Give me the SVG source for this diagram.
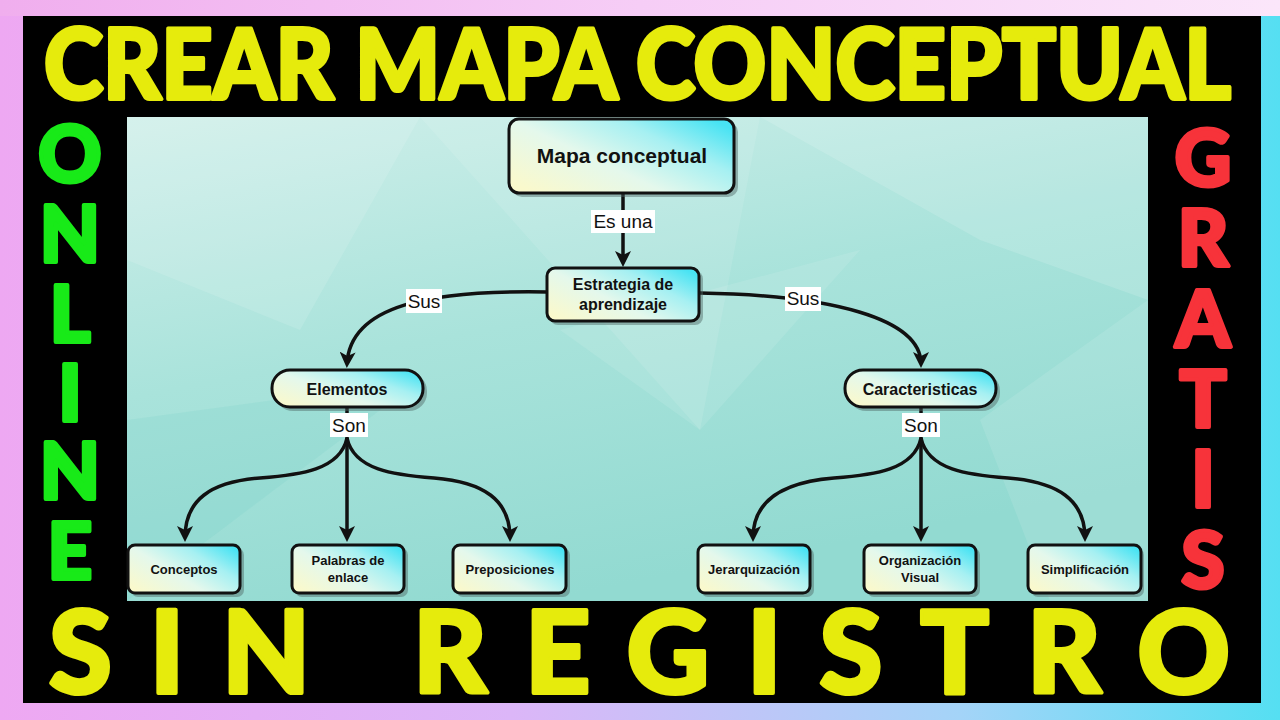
<svg xmlns="http://www.w3.org/2000/svg" width="1280" height="720" viewBox="0 0 1280 720">
<defs>
<linearGradient id="frame" x1="0" y1="0" x2="1" y2="0">
<stop offset="0" stop-color="#EEA8F2"/>
<stop offset="0.4" stop-color="#DCB6F8"/>
<stop offset="0.75" stop-color="#A4D4F8"/>
<stop offset="1" stop-color="#55DFF2"/>
</linearGradient>
<linearGradient id="topstrip" x1="0" y1="0" x2="1" y2="0">
<stop offset="0" stop-color="#F0AEEE"/>
<stop offset="0.5" stop-color="#F6CDF6"/>
<stop offset="1" stop-color="#FBE6FA"/>
</linearGradient>
<linearGradient id="panel" x1="0" y1="0" x2="0.4" y2="1">
<stop offset="0" stop-color="#D0EFEA"/>
<stop offset="0.5" stop-color="#A9E3DB"/>
<stop offset="1" stop-color="#92DAD1"/>
</linearGradient>
<linearGradient id="nodefill" x1="0" y1="0.85" x2="1" y2="0.15">
<stop offset="0" stop-color="#FAF9CC"/>
<stop offset="0.4" stop-color="#E4F8EC"/>
<stop offset="0.72" stop-color="#A6F0F2"/>
<stop offset="1" stop-color="#48E3F3"/>
</linearGradient>
<marker id="arr" viewBox="0 0 16 16" refX="12" refY="8" markerWidth="16" markerHeight="16" markerUnits="userSpaceOnUse" orient="auto">
<path d="M0,0 L16,8 L0,16 L4,8 z" fill="#111"/>
</marker>
<style>
.node{fill:url(#nodefill);stroke:#111;stroke-width:3}
.shadow{fill:#4d6664;opacity:0.45}
.nt{font-family:"Liberation Sans",Arial,sans-serif;font-weight:bold;fill:#111;text-anchor:middle}
.conn{fill:none;stroke:#111;stroke-width:3.5}
.lblbg{fill:#fff}
.lbl{font-family:"Liberation Sans",Arial,sans-serif;font-size:19px;fill:#111;text-anchor:middle}
.big{font-family:Lato,"Liberation Sans",sans-serif;font-weight:900;stroke-linejoin:round}
.yel{fill:#E6EB0C;stroke:#E6EB0C;stroke-width:4}
.grn{fill:#18EA18;stroke:#18EA18;stroke-width:4}
.red{fill:#F7333A;stroke:#F7333A;stroke-width:4}
</style>
</defs>
<rect x="0" y="0" width="1280" height="720" fill="url(#frame)"/>
<rect x="0" y="0" width="1280" height="16" fill="url(#topstrip)"/>
<rect x="23" y="16" width="1238" height="687" fill="#000"/>
<g id="panel-bg">
<rect x="127" y="117" width="1021" height="484" fill="url(#panel)"/>
<polygon points="127,117 420,117 300,330 127,260" fill="#fff" opacity="0.12"/>
<polygon points="420,117 760,117 700,430" fill="#fff" opacity="0.1"/>
<polygon points="760,117 1148,117 1148,300 980,240" fill="#fff" opacity="0.14"/>
<polygon points="560,330 860,250 700,430" fill="#fff" opacity="0.1"/>
<polygon points="127,420 420,380 127,601" fill="#5cc9bd" opacity="0.12"/>
<polygon points="980,420 1148,300 1148,601 1050,601" fill="#fff" opacity="0.1"/>
</g>
<text class="big yel" x="44" y="99" font-size="98" textLength="1187" lengthAdjust="spacingAndGlyphs">CREAR MAPA CONCEPTUAL</text>
<text class="big yel" x="49" y="693" font-size="114" textLength="1181" lengthAdjust="spacing">SIN REGISTRO</text>
<text class="big grn" font-size="78" text-anchor="middle"><tspan x="70" y="182">O</tspan><tspan x="70" y="262">N</tspan><tspan x="70" y="342">L</tspan><tspan x="70" y="421">I</tspan><tspan x="70" y="499">N</tspan><tspan x="70" y="579">E</tspan></text>
<text class="big red" font-size="78" text-anchor="middle"><tspan x="1203" y="186">G</tspan><tspan x="1203" y="266">R</tspan><tspan x="1203" y="347">A</tspan><tspan x="1203" y="427">T</tspan><tspan x="1203" y="507">I</tspan><tspan x="1203" y="588">S</tspan></text>
<g id="connectors">
<path class="conn" d="M623,194 L623,263" marker-end="url(#arr)"/>
<path class="conn" d="M547,292 C430,290 350,305 347,364" marker-end="url(#arr)"/>
<path class="conn" d="M700,293 C830,295 921,318 921,364" marker-end="url(#arr)"/>
<path class="conn" d="M347,407 L347,440"/>
<path class="conn" d="M347,438 C340,470 300,475 260,478 C210,482 185,500 185,538" marker-end="url(#arr)"/>
<path class="conn" d="M347,438 L347,538" marker-end="url(#arr)"/>
<path class="conn" d="M347,438 C354,470 394,475 434,478 C484,482 510,500 510,538" marker-end="url(#arr)"/>
<path class="conn" d="M921,407 L921,440"/>
<path class="conn" d="M921,438 C914,470 874,475 834,478 C784,482 753,500 753,538" marker-end="url(#arr)"/>
<path class="conn" d="M921,438 L921,538" marker-end="url(#arr)"/>
<path class="conn" d="M921,438 C928,470 968,475 1008,478 C1058,482 1085,500 1085,538" marker-end="url(#arr)"/>
<rect class="lblbg" x="591" y="210" width="64" height="23"/>
<text class="lbl" x="623" y="228">Es una</text>
<rect class="lblbg" x="406" y="289" width="36" height="24"/>
<text class="lbl" x="424" y="308">Sus</text>
<rect class="lblbg" x="785" y="287" width="36" height="24"/>
<text class="lbl" x="803" y="305">Sus</text>
<rect class="lblbg" x="330" y="413" width="38" height="24"/>
<text class="lbl" x="349" y="432">Son</text>
<rect class="lblbg" x="902" y="413" width="38" height="24"/>
<text class="lbl" x="921" y="432">Son</text>
</g>
<g id="n-mapa">
<rect class="shadow" x="512" y="122" width="226" height="75" rx="10"/>
<rect class="node" x="509" y="119" width="225" height="74" rx="10"/>
<text class="nt" x="622" y="163" font-size="21">Mapa conceptual</text>
</g>
<g id="n-estrategia">
<rect class="shadow" x="550" y="271" width="153" height="54" rx="8"/>
<rect class="node" x="547" y="268" width="152" height="53" rx="8"/>
<text class="nt" x="623" y="290" font-size="16">Estrategia de</text>
<text class="nt" x="623" y="310" font-size="16">aprendizaje</text>
</g>
<g id="n-elementos">
<rect class="shadow" x="275" y="373" width="152" height="38" rx="18"/>
<rect class="node" x="272" y="370" width="151" height="37" rx="18"/>
<text class="nt" x="347" y="395" font-size="16">Elementos</text>
</g>
<g id="n-caracteristicas">
<rect class="shadow" x="848" y="373" width="152" height="38" rx="18"/>
<rect class="node" x="845" y="370" width="151" height="37" rx="18"/>
<text class="nt" x="920" y="395" font-size="16">Caracteristicas</text>
</g>
<g id="n-conceptos">
<rect class="shadow" x="131" y="548" width="113" height="49" rx="7"/>
<rect class="node" x="128" y="545" width="112" height="48" rx="7"/>
<text class="nt" x="184" y="574" font-size="13">Conceptos</text>
</g>
<g id="n-palabras">
<rect class="shadow" x="295" y="548" width="113" height="49" rx="7"/>
<rect class="node" x="292" y="545" width="112" height="48" rx="7"/>
<text class="nt" x="348" y="565" font-size="13">Palabras de</text>
<text class="nt" x="348" y="582" font-size="13">enlace</text>
</g>
<g id="n-preposiciones">
<rect class="shadow" x="456" y="548" width="114" height="49" rx="7"/>
<rect class="node" x="453" y="545" width="113" height="48" rx="7"/>
<text class="nt" x="510" y="574" font-size="13">Preposiciones</text>
</g>
<g id="n-jerarquizacion">
<rect class="shadow" x="701" y="548" width="113" height="49" rx="7"/>
<rect class="node" x="698" y="545" width="112" height="48" rx="7"/>
<text class="nt" x="754" y="574" font-size="13">Jerarquización</text>
</g>
<g id="n-organizacion">
<rect class="shadow" x="867" y="548" width="113" height="49" rx="7"/>
<rect class="node" x="864" y="545" width="112" height="48" rx="7"/>
<text class="nt" x="920" y="565" font-size="13">Organización</text>
<text class="nt" x="920" y="582" font-size="13">Visual</text>
</g>
<g id="n-simplificacion">
<rect class="shadow" x="1031" y="548" width="113" height="49" rx="7"/>
<rect class="node" x="1028" y="545" width="113" height="48" rx="7"/>
<text class="nt" x="1085" y="574" font-size="13">Simplificación</text>
</g>
</svg>
